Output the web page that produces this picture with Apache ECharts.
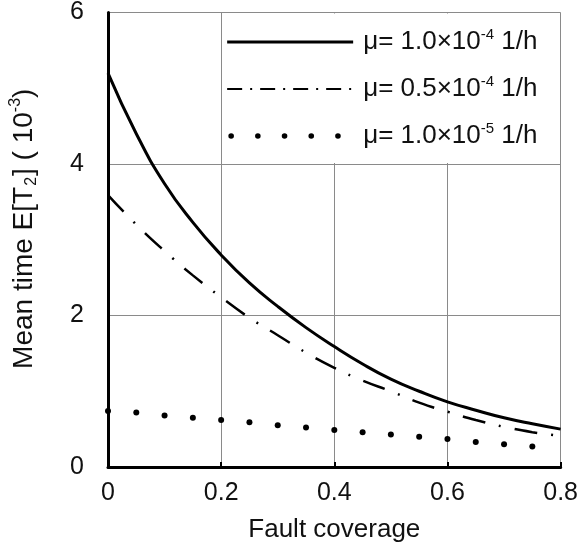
<!DOCTYPE html>
<html>
<head>
<meta charset="utf-8">
<script src="https://cdn.jsdelivr.net/npm/echarts@6/dist/echarts.min.js"></script>
<style>
  html, body { margin: 0; padding: 0; background: #fff; }
  #chart { width: 581px; height: 548px; }
</style>
</head>
<body>
<div id="chart"></div>
<script>
// fault coverage (x) and mean time E[T2] in units of 1e-3 (y)
const coverage = [0, 0.05, 0.1, 0.15, 0.2, 0.25, 0.3, 0.35, 0.4, 0.45, 0.5, 0.55, 0.6, 0.65, 0.7, 0.75, 0.8];
const muHigh = [5.20, 4.40, 3.74, 3.23, 2.80, 2.43, 2.12, 1.84, 1.59, 1.36, 1.16, 1.00, 0.86, 0.75, 0.65, 0.57, 0.50];
const muMid = [3.59, 3.20, 2.85, 2.53, 2.24, 1.97, 1.74, 1.51, 1.31, 1.14, 1.00, 0.85, 0.73, 0.62, 0.53, 0.46, 0.41];
const lowCoverage = [0, 0.05, 0.1, 0.15, 0.2, 0.25, 0.3, 0.35, 0.4, 0.45, 0.5, 0.55, 0.6, 0.65, 0.7, 0.75];
const muLow = [0.74, 0.72, 0.68, 0.65, 0.62, 0.59, 0.55, 0.52, 0.49, 0.46, 0.43, 0.40, 0.37, 0.33, 0.30, 0.27];

const xTicks = { min: 0, max: 0.8, interval: 0.2 };
const yTicks = { min: 0, max: 6, interval: 2 };

const legendRows = [
  { mant: "1.0", exp: "-4" },
  { mant: "0.5", exp: "-4" },
  { mant: "1.0", exp: "-5" },
];

const FONT = "Liberation Sans, Arial, sans-serif";
const pairs = (xs, ys) => xs.map((x, i) => [x, ys[i]]);

const chart = echarts.init(document.getElementById("chart"), null, { renderer: "canvas" });

const axisLineStyle = { color: "#000", width: 3 };
const splitStyle = { color: "#8a8a8a", width: 1 };

chart.setOption({
  backgroundColor: "#fff",
  animation: false,
  grid: { left: 107, right: 19, top: 12, bottom: 81, containLabel: false },
  xAxis: {
    type: "value",
    ...xTicks,
    name: "Fault coverage",
    nameLocation: "middle",
    nameGap: 50,
    nameTextStyle: { fontFamily: FONT, fontSize: 26, color: "#111" },
    axisLine: { show: true, onZero: false, lineStyle: axisLineStyle },
    axisTick: { show: true, inside: true, length: 5, lineStyle: { color: "#000", width: 2 } },
    axisLabel: { fontFamily: FONT, fontSize: 25, color: "#111", margin: 14 },
    splitLine: { show: true, lineStyle: splitStyle },
  },
  yAxis: {
    type: "value",
    ...yTicks,
    name: "{t|Mean time E[T}{sub|2}{t|] ( 10}{sup|-3}{t|)}",
    nameLocation: "middle",
    nameGap: 68,
    nameTextStyle: {
      fontFamily: FONT, fontSize: 28, color: "#111",
      padding: [0, 0, 0, 22],
      rich: {
        t: { fontFamily: FONT, fontSize: 28, color: "#111", lineHeight: 32 },
        sub: { fontFamily: FONT, fontSize: 16, color: "#111", verticalAlign: "bottom", lineHeight: 32, padding: [0, 1, 0, 1] },
        sup: { fontFamily: FONT, fontSize: 16, color: "#111", verticalAlign: "top", lineHeight: 32 },
      },
    },
    axisLine: { show: true, onZero: false, lineStyle: axisLineStyle },
    axisTick: { show: false },
    axisLabel: { fontFamily: FONT, fontSize: 25, color: "#111", margin: 24, padding: [12, 0, 0, 0] },
    splitLine: { show: true, lineStyle: splitStyle },
  },
  series: [
    {
      name: "mu1",
      type: "line",
      data: pairs(coverage, muHigh),
      smooth: 0.5,
      symbol: "none",
      lineStyle: { color: "#000", width: 3 },
      z: 3,
    },
    {
      name: "mu2",
      type: "line",
      data: pairs(coverage, muMid),
      smooth: 0.5,
      symbol: "none",
      lineStyle: { color: "#000", width: 2.5, type: [23, 14, 2, 14], cap: "butt" },
      z: 3,
    },
    {
      name: "mu3",
      type: "scatter",
      data: pairs(lowCoverage, muLow),
      symbol: "circle",
      symbolSize: 6,
      itemStyle: { color: "#000", opacity: 1 },
      z: 3,
    },
  ],
});

// legend box: white panel sitting in the top-right grid cells
const tl = chart.convertToPixel({ gridIndex: 0 }, [0.2, 6]);
const br = chart.convertToPixel({ gridIndex: 0 }, [0.8, 4]);
const rowY = [42, 89, 136];
const sampleX0 = tl[0] + 6;
const sampleX1 = sampleX0 + 126;
const textX = sampleX1 + 10;

const legendText = (row) =>
  `{t|μ= ${row.mant}×10}{sup|${row.exp}}{t| 1/h}`;

const legendRich = {
  t: { fontFamily: FONT, fontSize: 26, fill: "#111", lineHeight: 30 },
  sup: { fontFamily: FONT, fontSize: 15, fill: "#111", verticalAlign: "top", lineHeight: 30 },
};

const elements = [
  {
    type: "rect",
    shape: { x: tl[0] + 1, y: tl[1] + 1, width: br[0] - tl[0] - 2, height: br[1] - tl[1] - 2 },
    style: { fill: "#fff" },
  },
  {
    type: "line",
    shape: { x1: sampleX0, y1: rowY[0], x2: sampleX1, y2: rowY[0] },
    style: { stroke: "#000", lineWidth: 3 },
  },
  {
    type: "line",
    shape: { x1: sampleX0, y1: rowY[1], x2: sampleX1, y2: rowY[1] },
    style: { stroke: "#000", lineWidth: 2, lineDash: [15, 8, 2, 8] },
  },
];
for (let i = 0; i < 5; i++) {
  elements.push({
    type: "circle",
    shape: { cx: sampleX0 + 4 + i * 26.7, cy: rowY[2], r: 2.8 },
    style: { fill: "#000" },
  });
}
legendRows.forEach((row, i) => {
  elements.push({
    type: "text",
    x: textX,
    y: rowY[i],
    style: {
      text: legendText(row),
      rich: legendRich,
      verticalAlign: "middle",
      align: "left",
    },
  });
});

chart.setOption({
  graphic: [{ type: "group", z: 100, children: elements.map((e) => ({ ...e, z: 100 })) }],
});
</script>
</body>
</html>
